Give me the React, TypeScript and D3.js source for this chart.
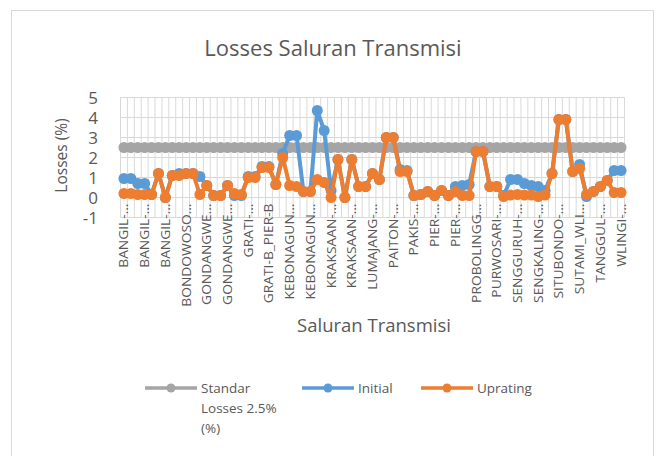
import React from 'react';
import * as d3 from 'd3';

// labels shown on the category axis (every third line)
const tickLabels = [
  'BANGIL-…', 'BANGIL-…', 'BANGIL-…', 'BONDOWOSO…', 'GONDANGWE…', 'GONDANGWE…',
  'GRATI-…', 'GRATI-B_PIER-B', 'KEBONAGUN…', 'KEBONAGUN…', 'KRAKSAAN-…', 'KRAKSAAN-…',
  'LUMAJANG-…', 'PAITON-…', 'PAKIS-…', 'PIER-…', 'PIER-…', 'PROBOLINGG…',
  'PURWOSARI-…', 'SENGGURUH-…', 'SENGKALING-…', 'SITUBONDO-…', 'SUTAMI_WLI…', 'TANGGUL-…', 'WLINGI-…',
];
const labelStep = 3;

const initial = [
  0.95, 0.95, 0.7, 0.7, 0.15, 1.2, 0.0, 1.1, 1.2, 1.2, 1.2, 1.05, 0.6, 0.1, 0.1, 0.6,
  0.1, 0.1, 1.05, 1.05, 1.55, 1.55, 0.65, 2.2, 3.1, 3.1, 0.3, 0.3, 4.35, 3.35, 0.35, 1.9,
  0.0, 1.9, 0.55, 0.55, 1.2, 0.9, 3.0, 3.0, 1.4, 1.35, 0.1, 0.15, 0.3, 0.1, 0.35, 0.1,
  0.55, 0.6, 0.65, 2.3, 2.3, 0.55, 0.55, 0.1, 0.9, 0.9, 0.7, 0.6, 0.55, 0.35, 1.2, 3.9,
  3.9, 1.3, 1.65, 0.05, 0.3, 0.55, 0.85, 1.35, 1.35,
];

const uprating = [
  0.2, 0.2, 0.15, 0.15, 0.15, 1.2, 0.0, 1.1, 1.1, 1.2, 1.2, 0.15, 0.6, 0.1, 0.1, 0.6,
  0.2, 0.15, 1.0, 1.0, 1.5, 1.5, 0.65, 2.0, 0.6, 0.55, 0.3, 0.3, 0.9, 0.75, 0.0, 1.9,
  0.0, 1.9, 0.55, 0.55, 1.2, 0.9, 3.0, 3.0, 1.3, 1.3, 0.1, 0.15, 0.3, 0.1, 0.35, 0.1,
  0.3, 0.1, 0.1, 2.3, 2.3, 0.55, 0.55, 0.05, 0.12, 0.15, 0.12, 0.12, 0.05, 0.12, 1.2, 3.9,
  3.9, 1.3, 1.45, 0.15, 0.3, 0.55, 0.85, 0.25, 0.25,
];

const standardLoss = 2.5;
const yTicks = [-1, 0, 1, 2, 3, 4, 5];

const legendItems = [
  { lines: ['Standar', 'Losses 2.5%', '(%)'], color: '#A5A5A5', x: 145 },
  { lines: ['Initial'], color: '#5B9BD5', x: 302 },
  { lines: ['Uprating'], color: '#ED7D31', x: 421 },
];

const font = '"Open Sans", sans-serif';
const textColor = '#595959';
const gridColor = '#D9D9D9';

const App: React.FC = () => {
  const width = 657;
  const height = 456;
  const plot = { left: 120.5, right: 624.5, top: 97.5, bottom: 217.5 };

  const idx = d3.range(initial.length);
  const x = d3.scaleBand<number>().domain(idx).range([plot.left, plot.right]).padding(0);
  const cx = (i: number) => (x(i) as number) + x.bandwidth() / 2;
  const y = d3.scaleLinear().domain([-1, 5]).range([plot.bottom, plot.top]);

  const line = (vals: number[]) =>
    d3.line<number>().x((_, i) => cx(i)).y(d => y(d))(vals) || '';

  const standard = idx.map(() => standardLoss);
  const series = [
    { vals: standard, color: '#A5A5A5' },
    { vals: initial, color: '#5B9BD5' },
    { vals: uprating, color: '#ED7D31' },
  ];

  const gridX = idx.map(i => x(i) as number).concat([plot.right]);

  return (
    <svg width={width} height={height} style={{ position: 'absolute', left: 0, top: 0, background: '#fff' }}>
      <rect x={11.5} y={10.5} width={642} height={460} fill="#fff" stroke={gridColor} />

      <text x={333} y={56} textAnchor="middle" fontFamily={font} fontSize={22} fill={textColor}>
        Losses Saluran Transmisi
      </text>

      {/* grid */}
      {yTicks.map(t => (
        <line key={'h' + t} x1={plot.left} x2={plot.right} y1={y(t)} y2={y(t)} stroke={gridColor} strokeWidth={1} />
      ))}
      {gridX.map((gx, i) => (
        <line key={'v' + i} x1={gx} x2={gx} y1={plot.top} y2={plot.bottom} stroke={gridColor} strokeWidth={1} />
      ))}

      {/* y tick labels */}
      {yTicks.map(t => (
        <text key={'yt' + t} x={98} y={y(t)} dy="0.36em" textAnchor="end" fontFamily={font} fontSize={17} fill={textColor}>
          {t}
        </text>
      ))}
      <text transform={`translate(67,${(plot.top + plot.bottom) / 2 - 2}) rotate(-90)`} textAnchor="middle"
        fontFamily={font} fontSize={15.5} fill={textColor}>
        Losses (%)
      </text>

      {/* category labels */}
      {tickLabels.map((lab, k) => {
        const i = k * labelStep;
        return (
          <text key={'c' + k} transform={`translate(${cx(i) + 4.5},${y(0) + 6}) rotate(-90) scale(1.15,1)`} textAnchor="end"
            fontFamily={font} fontSize={12} fill={textColor}>
            {lab}
          </text>
        );
      })}
      <text x={374} y={332} textAnchor="middle" fontFamily={font} fontSize={18.5} fill={textColor}>
        Saluran Transmisi
      </text>

      {/* series */}
      {series.map((s, si) => (
        <g key={'s' + si}>
          <path d={line(s.vals)} fill="none" stroke={s.color} strokeWidth={4} strokeLinejoin="round" />
          {s.vals.map((v, i) => (
            <circle key={i} cx={cx(i)} cy={y(v)} r={5.5} fill={s.color} />
          ))}
        </g>
      ))}

      {/* legend */}
      {legendItems.map((it, k) => (
        <g key={'l' + k}>
          <line x1={it.x} x2={it.x + 52} y1={388} y2={388} stroke={it.color} strokeWidth={3.5} />
          <circle cx={it.x + 26} cy={388} r={4.5} fill={it.color} />
          {it.lines.map((t, j) => (
            <text key={j} x={it.x + 56} y={388 + j * 20} dy="0.35em" fontFamily={font} fontSize={13.5} fill={textColor}>
              {t}
            </text>
          ))}
        </g>
      ))}
    </svg>
  );
};

export default App;
